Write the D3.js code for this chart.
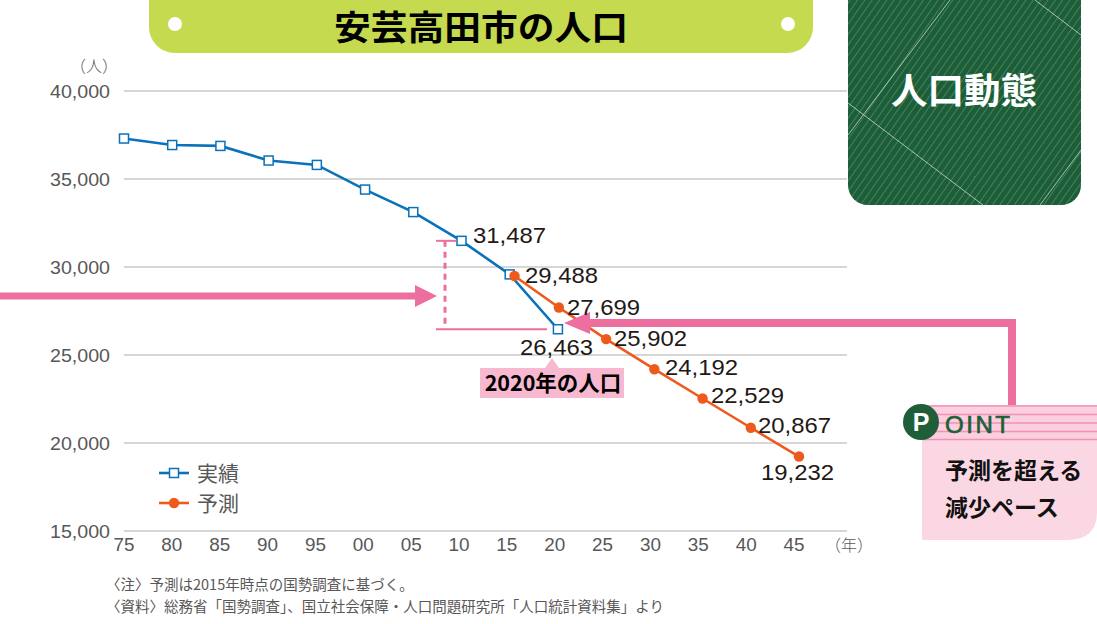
<!DOCTYPE html>
<html lang="ja"><head><meta charset="utf-8">
<script src="https://cdnjs.cloudflare.com/ajax/libs/d3/7.8.5/d3.min.js"></script>
<style>html,body{margin:0;padding:0;background:#fff;overflow:hidden}svg{display:block}
text{font-family:"Liberation Sans","Noto Sans CJK JP",sans-serif}
.jp{font-family:"Noto Sans CJK JP",sans-serif}</style></head><body>
<svg id="c" width="1097" height="624"></svg>
<script>
const xTickLabels=["75","80","85","90","95","00","05","10","15","20","25","30","35","40","45"];
const yTicks=[15000,20000,25000,30000,35000,40000];
const actualIdx=[0,1,2,3,4,5,6,7,8,9];
const actualVals=[37300,36930,36880,36050,35800,34400,33120,31487,29580,26463];
const forecastIdx=[8.1,9.02,10,11,12,13,14];
const forecastVals=[29488,27699,25902,24192,22529,20867,19232];
const forecastLabels=["29,488","27,699","25,902","24,192","22,529","20,867","19,232"];
const actualColor="#0a72ba",forecastColor="#ee5a1c",pink="#ec6f9f",grey="#aeaeae",txt="#595757";

const svg=d3.select("#c");
const x=d3.scaleLinear().domain([0,14]).range([124,799]);
const xLab=d3.scaleLinear().domain([0,14]).range([124,794]);
const y=d3.scaleLinear().domain([15000,40000]).range([531,91]);
const defs=svg.append("defs");
const hatch=defs.append("pattern").attr("id","h").attr("width",6).attr("height",6).attr("patternUnits","userSpaceOnUse").attr("patternTransform","rotate(35)");
hatch.append("rect").attr("width",6).attr("height",6).attr("fill","#1b5e38");
hatch.append("rect").attr("width",1).attr("height",6).attr("fill","#4b7f5f");

// gridlines
svg.append("g").selectAll("line").data(yTicks).join("line")
 .attr("x1",124).attr("x2",847).attr("y1",d=>y(d)).attr("y2",d=>y(d)).attr("stroke",grey).attr("stroke-width",1.2);
svg.append("g").selectAll("text").data(yTicks).join("text")
 .attr("x",110).attr("y",d=>y(d)+7).attr("text-anchor","end").attr("font-size",18).attr("textLength",60).attr("lengthAdjust","spacingAndGlyphs").attr("fill",txt).text(d=>d3.format(",")(d));
svg.append("g").selectAll("text").data(xTickLabels).join("text")
 .attr("x",(d,i)=>xLab(i)).attr("y",551).attr("text-anchor","middle").attr("font-size",18).attr("textLength",21).attr("lengthAdjust","spacingAndGlyphs").attr("fill",txt).text(d=>d);
svg.append("text").attr("class","jp").attr("x",70).attr("y",72).attr("font-size",16).attr("font-weight",300).attr("fill",txt).text("（人）");
svg.append("text").attr("class","jp").attr("x",825).attr("y",551).attr("font-size",16).attr("font-weight",300).attr("fill",txt).text("（年）");

// title
svg.append("rect").attr("x",149).attr("y",-30).attr("width",664).attr("height",83).attr("rx",26).attr("fill","#c5da4f");
svg.selectAll(".dot").data([175,788]).join("circle").attr("cx",d=>d).attr("cy",24).attr("r",7).attr("fill","#fff");
svg.append("text").attr("class","jp").attr("x",334).attr("y",40).attr("font-size",34).attr("textLength",294).attr("lengthAdjust","spacingAndGlyphs").attr("font-weight",700).attr("fill","#000").text("安芸高田市の人口");

// green panel
svg.append("rect").attr("x",848).attr("y",-30).attr("width",233).attr("height",235).attr("rx",20).attr("fill","url(#h)");
const clip=defs.append("clipPath").attr("id","pc");
clip.append("rect").attr("x",848).attr("y",-30).attr("width",233).attr("height",235).attr("rx",20);
const pl=svg.append("g").attr("clip-path","url(#pc)").attr("stroke","#c9d9cf").attr("stroke-width",.8);
[[950,0,848,135],[1035,0,1081,35],[848,103,983,205],[1081,150,1040,205]].forEach(l=>pl.append("line").attr("x1",l[0]).attr("y1",l[1]).attr("x2",l[2]).attr("y2",l[3]));
svg.append("text").attr("class","jp").attr("x",964).attr("y",104).attr("text-anchor","middle").attr("font-size",36.5).attr("font-weight",700).attr("fill","#fff").text("人口動態");

// bracket
const yTop=y(31487),yBot=y(26463);
const br=svg.append("g").attr("stroke",pink);
br.append("line").attr("x1",436).attr("x2",456).attr("y1",yTop).attr("y2",yTop).attr("stroke-width",2);
br.append("line").attr("x1",436).attr("x2",547).attr("y1",yBot).attr("y2",yBot).attr("stroke-width",2);
br.append("line").attr("x1",445).attr("x2",445).attr("y1",yTop).attr("y2",yBot).attr("stroke-width",3).attr("stroke-dasharray","6 5");

// lines
const line=d3.line().x(d=>x(d[0])).y(d=>y(d[1]));
const A=actualIdx.map((d,i)=>[d,actualVals[i]]),F=forecastIdx.map((d,i)=>[d,forecastVals[i]]);
svg.append("path").attr("d",line(A)).attr("fill","none").attr("stroke",actualColor).attr("stroke-width",2.6);
svg.append("path").attr("d",line(F)).attr("fill","none").attr("stroke",forecastColor).attr("stroke-width",2.6);
svg.append("g").selectAll("rect").data(A).join("rect").attr("x",d=>x(d[0])-4.5).attr("y",d=>y(d[1])-4.5).attr("width",9).attr("height",9).attr("fill","#fff").attr("stroke",actualColor).attr("stroke-width",1.5);
svg.append("g").selectAll("circle").data(F).join("circle").attr("cx",d=>x(d[0])).attr("cy",d=>y(d[1])).attr("r",5.2).attr("fill",forecastColor);

// arrows
svg.append("path").attr("fill",pink).attr("d","M0,292.5H415V285L437,296L415,307V299.5H0Z");
svg.append("path").attr("fill",pink).attr("d","M1016,319V405H1008V327H590V334L564,323L590,312V319Z");

// value labels
const lab=[[525,283],[567,315],[614,346],[665,375],[711,403],[758,433],[761,480]];
const valueText=(sel)=>sel.attr("font-size",22).attr("textLength",73).attr("lengthAdjust","spacingAndGlyphs").attr("fill","#231815");
svg.append("g").selectAll("text").data(forecastLabels).join("text").attr("x",(d,i)=>lab[i][0]).attr("y",(d,i)=>lab[i][1]).call(valueText).text(d=>d);
svg.append("text").attr("x",473).attr("y",243).call(valueText).text("31,487");
svg.append("text").attr("x",520).attr("y",355).call(valueText).text("26,463");

// callout
svg.append("path").attr("fill","#f7b8d0").attr("d","M480,368H545L552,358L559,368H624V398H480Z");
svg.append("text").attr("class","jp").attr("x",553).attr("y",391).attr("text-anchor","middle").attr("font-size",21.5).attr("font-weight",700).attr("fill","#000").text("2020年の人口");

// legend
const lg=svg.append("g");
lg.append("line").attr("x1",159).attr("x2",189).attr("y1",473).attr("y2",473).attr("stroke",actualColor).attr("stroke-width",2.6);
lg.append("rect").attr("x",169.5).attr("y",468.5).attr("width",9).attr("height",9).attr("fill","#fff").attr("stroke",actualColor).attr("stroke-width",1.5);
lg.append("line").attr("x1",159).attr("x2",189).attr("y1",503).attr("y2",503).attr("stroke",forecastColor).attr("stroke-width",2.6);
lg.append("circle").attr("cx",174).attr("cy",503).attr("r",5.2).attr("fill",forecastColor);
lg.append("text").attr("class","jp").attr("x",197).attr("y",481).attr("font-size",21).attr("fill",txt).text("実績");
lg.append("text").attr("class","jp").attr("x",197).attr("y",511).attr("font-size",21).attr("fill",txt).text("予測");

// point box
svg.append("path").attr("fill","#fad7e3").attr("d","M922,405H1097V512Q1097,540 1067,540H922Z");
svg.append("rect").attr("x",922).attr("y",405).attr("width",175).attr("height",35).attr("fill","#fbcfdf");
svg.append("g").selectAll("line").data([406,414.5,423,431.5,439.5]).join("line").attr("x1",922).attr("x2",1097).attr("y1",d=>d).attr("y2",d=>d).attr("stroke","#f291b5").attr("stroke-width",1.6);
svg.append("circle").attr("cx",921).attr("cy",422).attr("r",18).attr("fill","#1e5f3a");
svg.append("text").attr("x",921).attr("y",431).attr("text-anchor","middle").attr("font-size",25).attr("font-weight",700).attr("fill","#fff").text("P");
svg.append("text").attr("x",945).attr("y",433).attr("font-size",24).attr("textLength",65).attr("stroke","#1e5f3a").attr("stroke-width",.7).attr("fill","#1e5f3a").text("OINT");
svg.append("text").attr("class","jp").attr("x",945).attr("y",479).attr("font-size",23).attr("font-weight",700).attr("fill","#111").text("予測を超える");
svg.append("text").attr("class","jp").attr("x",945).attr("y",516).attr("font-size",23).attr("font-weight",700).attr("fill","#111").text("減少ペース");

// notes
svg.append("text").attr("class","jp").attr("x",106).attr("y",590).attr("font-size",14.5).attr("fill",txt).text("〈注〉予測は2015年時点の国勢調査に基づく。");
svg.append("text").attr("class","jp").attr("x",106).attr("y",612).attr("font-size",14.5).attr("fill",txt).text("〈資料〉総務省「国勢調査」、国立社会保障・人口問題研究所「人口統計資料集」より");
</script></body></html>
